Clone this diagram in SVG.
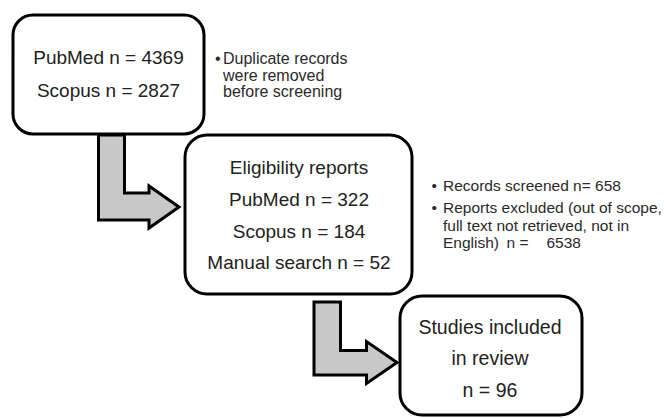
<svg xmlns="http://www.w3.org/2000/svg" width="664" height="418" viewBox="0 0 664 418">
  <style>
    .box { fill: #ffffff; stroke: #000000; stroke-width: 3; }
    .arrow { fill: #c8c8c8; stroke: #000000; stroke-width: 3; stroke-linejoin: miter; }
    .bt { font-family: "Liberation Sans", Arial, sans-serif; font-size: 19px; fill: #222222; text-anchor: middle; }
    .nt { font-family: "Liberation Sans", Arial, sans-serif; font-size: 15.5px; fill: #2a2a2a; }
    .n1 { font-size: 16px; }
  </style>
  <rect width="664" height="418" fill="#ffffff"/>
  <g id="connectors">
    <polygon class="arrow" points="98.5,135 124.5,135 124.5,193 149,193 149,186 179,207 149,228 149,220 98.5,220"/>
    <polygon class="arrow" points="314,302 340.5,302 340.5,350.5 366.5,350.5 366.5,341.5 397,362.5 366.5,383.5 366.5,375 314,375"/>
  </g>
  <g id="node-sources">
    <rect class="box" x="13" y="15" width="191" height="119" rx="20" ry="20"/>
    <text class="bt" x="108.5" y="64">PubMed n = 4369</text>
    <text class="bt" x="108.5" y="96.5">Scopus n = 2827</text>
  </g>
  <g id="note-duplicates">
    <text class="nt n1" x="215" y="64">•</text>
    <text class="nt n1" x="223" y="64">Duplicate records</text>
    <text class="nt n1" x="223" y="80.5">were removed</text>
    <text class="nt n1" x="223" y="97">before screening</text>
  </g>
  <g id="node-eligibility">
    <rect class="box" x="185" y="135" width="227" height="159" rx="22" ry="22"/>
    <text class="bt" x="299" y="174">Eligibility reports</text>
    <text class="bt" x="299" y="205.5">PubMed n = 322</text>
    <text class="bt" x="299" y="237.5">Scopus n = 184</text>
    <text class="bt" x="299" y="269">Manual search n = 52</text>
  </g>
  <g id="note-screening">
    <text class="nt" x="431.5" y="191">•</text>
    <text class="nt" x="443" y="191">Records screened n= 658</text>
    <text class="nt" x="431.5" y="213">•</text>
    <text class="nt" x="443" y="213">Reports excluded (out of scope,</text>
    <text class="nt" x="443" y="230.5">full text not retrieved, not in</text>
    <text class="nt" y="248"><tspan x="443">English)</tspan><tspan x="506.5">n =</tspan><tspan x="546.5">6538</tspan></text>
  </g>
  <g id="node-included">
    <rect class="box" x="400" y="296" width="182" height="119" rx="22" ry="22"/>
    <text class="bt" x="490" y="333.5" style="font-size:19.5px">Studies included</text>
    <text class="bt" x="490" y="365" style="font-size:19.5px">in review</text>
    <text class="bt" x="490" y="397" style="font-size:19.5px">n = 96</text>
  </g>
</svg>
